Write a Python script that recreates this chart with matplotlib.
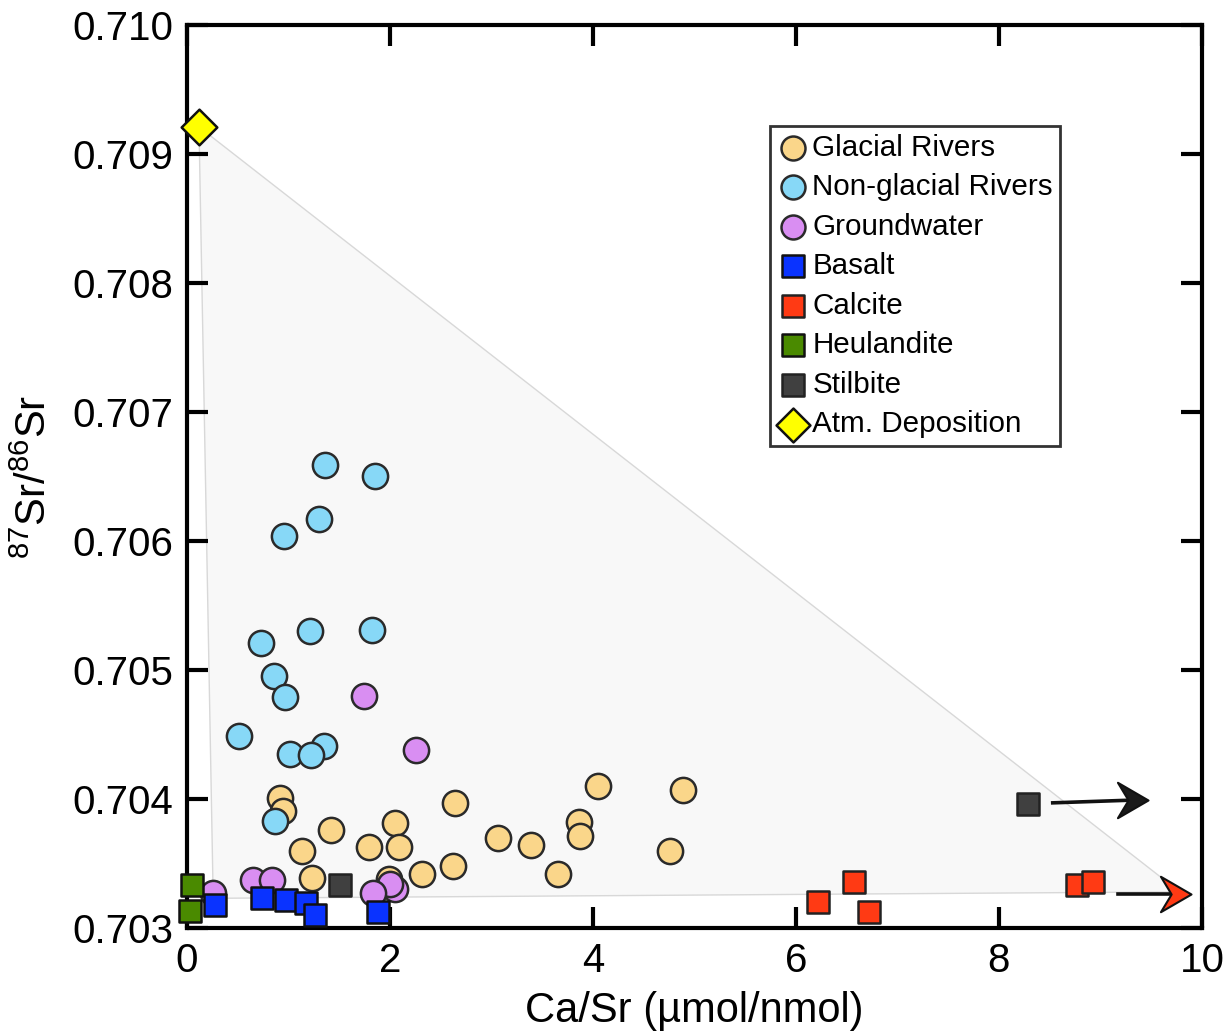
import matplotlib.pyplot as plt
import numpy as np
from matplotlib.path import Path

plt.rcParams['font.family'] = ['Liberation Sans', 'DejaVu Sans']
plt.rcParams['mathtext.default'] = 'regular'

# Ca/Sr (umol/nmol) and 87Sr/86Sr for each group
glacial_x = [0.92, 0.95, 1.13, 1.42, 1.23, 1.79, 2.05, 2.09, 1.99, 2.32, 2.62, 2.64,
             3.07, 3.39, 3.66, 3.86, 3.87, 4.05, 4.89, 4.76]
glacial_y = [0.70401, 0.70391, 0.70360, 0.70376, 0.70339, 0.70363, 0.70381, 0.70363,
             0.70338, 0.70342, 0.70348, 0.70397, 0.70370, 0.70364, 0.70342, 0.70382,
             0.70371, 0.70410, 0.70407, 0.70360]

nonglacial_x = [1.36, 1.85, 1.30, 0.96, 0.73, 1.21, 1.82, 0.86, 0.97, 0.51, 1.02,
                1.35, 1.22, 0.87]
nonglacial_y = [0.70659, 0.70650, 0.70617, 0.70604, 0.70521, 0.70530, 0.70531,
                0.70495, 0.70479, 0.70449, 0.70435, 0.70441, 0.70434, 0.70383]

ground_x = [1.75, 2.26, 0.65, 0.84, 0.26, 2.05, 2.00, 1.83]
ground_y = [0.70480, 0.70438, 0.70337, 0.70337, 0.70327, 0.70330, 0.70334, 0.70327]

basalt_x = [0.28, 0.74, 0.98, 1.17, 1.26, 1.88]
basalt_y = [0.70318, 0.70323, 0.70322, 0.70319, 0.70310, 0.70312]

calcite_x = [6.22, 6.57, 6.72, 8.77, 8.93]
calcite_y = [0.70320, 0.70336, 0.70312, 0.70333, 0.70336]

heul_x = [0.05, 0.03]
heul_y = [0.70333, 0.70313]

stilbite_x = [1.51, 8.29]
stilbite_y = [0.70333, 0.70396]

atm_x = [0.12]
atm_y = [0.70921]

# mixing envelope
env_x = [0.12, 0.26, 9.78]
env_y = [0.70921, 0.70323, 0.70328]

# off-scale arrows: (x0, y0, x1, y1)
stil_arrow = (8.53, 0.70397, 9.47, 0.70399)
calc_arrow = (9.17, 0.70326, 9.89, 0.70326)

fig = plt.figure(figsize=(12.29, 10.32), dpi=100)
ax = fig.add_axes([0.152, 0.1008, 0.826, 0.875])

ax.fill(env_x, env_y, facecolor='#f8f8f8', edgecolor='#d8d8d8', lw=1.0, zorder=1)

edge = '#2a2a2a'
ax.scatter(glacial_x, glacial_y, s=330, c='#fad68a', edgecolors=edge, linewidths=1.8,
           zorder=3, label='Glacial Rivers')
ax.scatter(nonglacial_x, nonglacial_y, s=330, c='#87d8f7', edgecolors=edge, linewidths=1.8,
           zorder=3, label='Non-glacial Rivers')
ax.scatter(ground_x, ground_y, s=330, c='#d98ef2', edgecolors=edge, linewidths=1.8,
           zorder=3, label='Groundwater')
ax.scatter(basalt_x, basalt_y, s=260, marker='s', c='#0a33ff', edgecolors='#111111',
           linewidths=1.8, zorder=4, label='Basalt')
ax.scatter(calcite_x, calcite_y, s=260, marker='s', c='#ff3a14', edgecolors='#222222',
           linewidths=1.8, zorder=4, label='Calcite')
ax.scatter(heul_x, heul_y, s=260, marker='s', c='#4a8a00', edgecolors='#111111',
           linewidths=1.8, zorder=4, label='Heulandite', clip_on=False)
ax.scatter(stilbite_x, stilbite_y, s=260, marker='s', c='#404040', edgecolors='#222222',
           linewidths=1.8, zorder=4, label='Stilbite')
ax.scatter(atm_x, atm_y, s=330, marker='D', c='#ffff00', edgecolors='#111111',
           linewidths=1.8, zorder=4, label='Atm. Deposition', clip_on=False)

# notched arrow head, tip at the origin
head = Path([(0, 0), (-1, 0.58), (-0.65, 0), (-1, -0.58), (0, 0)],
            [Path.MOVETO, Path.LINETO, Path.LINETO, Path.LINETO, Path.CLOSEPOLY])
for (x0, y0, x1, y1), fc in [(stil_arrow, '#1a1a1a'), (calc_arrow, '#ff3a14')]:
    ax.plot([x0, x1 - 0.2], [y0, y1], color='#111111', lw=2.6, zorder=5)
    ax.plot([x1], [y1], marker=head, ms=44, mfc=fc, mec='#111111', mew=1.5, zorder=6)

ax.set_xlim(0, 10)
ax.set_ylim(0.703, 0.710)
ax.set_xticks(np.arange(0, 11, 2))
ax.set_yticks(np.arange(0.703, 0.7101, 0.001))
ax.set_yticklabels([f'{v:.3f}' for v in np.arange(0.703, 0.7101, 0.001)])
ax.tick_params(direction='in', top=True, right=True, length=15, width=3,
               labelsize=29, pad=10)
for sp in ax.spines.values():
    sp.set_linewidth(3)

ax.set_xlabel('Ca/Sr (µmol/nmol)', fontsize=30, labelpad=8)
ax.set_ylabel('$^{87}$Sr/$^{86}$Sr', fontsize=30, labelpad=12)

leg = ax.legend(loc='upper left', bbox_to_anchor=(0.574, 0.888), fontsize=21.3,
                frameon=True, fancybox=False, edgecolor='black', handletextpad=0.1,
                handlelength=1.1, borderpad=0.25, labelspacing=0.39, borderaxespad=0,
                markerscale=0.95)
leg.get_frame().set_linewidth(2)

fig.savefig('out.png', dpi=100)
